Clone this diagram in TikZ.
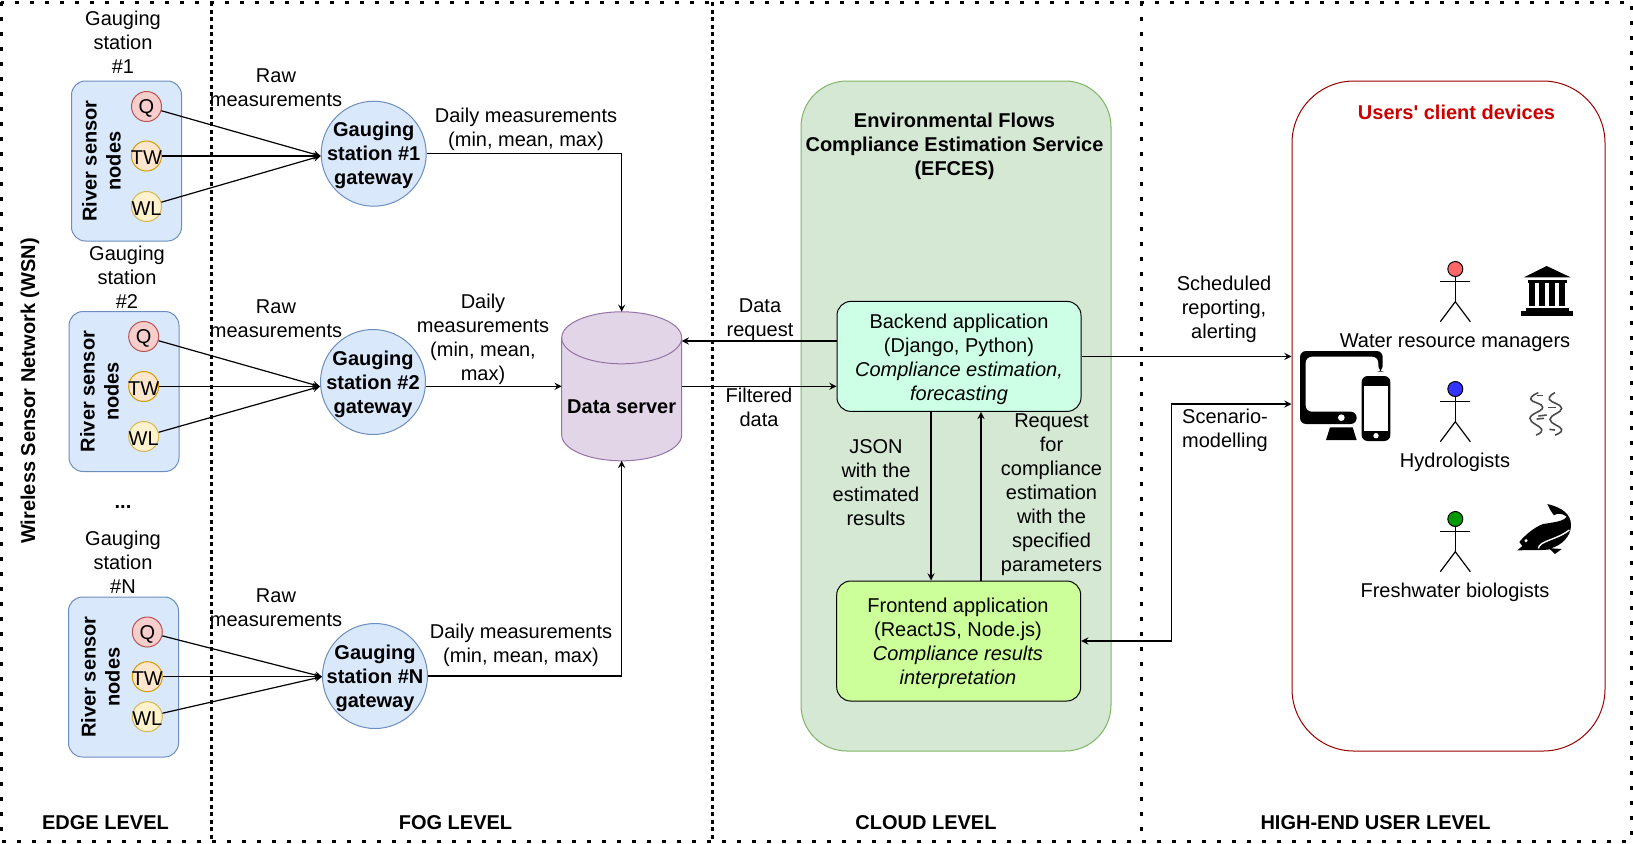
\documentclass[tikz,border=0pt]{standalone}
\usepackage{fontspec}
\setmainfont{Liberation Sans}
\newfontfamily\titlefont{Liberation Sans}
\usepackage{xcolor}
\definecolor{softblue}{HTML}{DAE8FC}
\definecolor{edgeblue}{HTML}{6C8EBF}
\definecolor{softred}{HTML}{F8CECC}
\definecolor{edgered}{HTML}{B85450}
\definecolor{softorange}{HTML}{FFE6CC}
\definecolor{edgeorange}{HTML}{D79B00}
\definecolor{softyellow}{HTML}{FFF2CC}
\definecolor{edgeyellow}{HTML}{D6B656}
\definecolor{softpurple}{HTML}{E1D5E7}
\definecolor{edgepurple}{HTML}{9673A6}
\definecolor{softgreen}{HTML}{D5E8D4}
\definecolor{edgegreen}{HTML}{82B366}
\definecolor{backendfill}{HTML}{CCFFE6}
\definecolor{frontendfill}{HTML}{CCFF99}
\definecolor{devicered}{HTML}{990000}
\definecolor{titlered}{HTML}{CC0000}
\definecolor{headred}{HTML}{FF6666}
\definecolor{headblue}{HTML}{3333FF}
\definecolor{headgreen}{HTML}{009900}

\begin{document}
\begin{tikzpicture}[x=.5pt,y=-.5pt,line width=.6pt,every label/.style={yshift=-1pt}]
\tikzstyle{txt}=[align=center,inner sep=0pt]
\tikzstyle{bold}=[txt,font=\bfseries]
\tikzstyle{river}=[rounded corners=7pt,draw=edgeblue,fill=softblue,line width=.5pt,minimum width=55pt,minimum height=80pt]
\tikzstyle{sensor}=[circle,line width=.5pt,minimum size=15pt,inner sep=0pt]
\tikzstyle{gateway}=[circle,draw=edgeblue,fill=softblue,line width=.5pt,minimum size=52.5pt,inner sep=0pt]
\tikzstyle{app}=[rounded corners=7pt,draw=black,line width=.5pt,minimum width=122pt,align=center,inner sep=0pt]
\tikzstyle{arr}=[-stealth]
\tikzstyle{sep}=[line width=1.5pt,dash pattern=on 2pt off 1.75pt]
\tikzstyle{sepwide}=[line width=1.5pt,dash pattern=on 2pt off 5.5pt]
\useasboundingbox (0,0) rectangle (1633,843);
% level frame
\draw[sepwide] (1,2) rectangle (1631,841);
\draw[sep] (211,2) -- (211,841);
\draw[sep] (712,2) -- (712,841);
\draw[sepwide] (1141.5,2) -- (1141.5,841);
\node[bold,rotate=90] (wsn) at (30,391) {Wireless Sensor Network (WSN)};
\node[bold] (edgelevel) at (105.5,823) {EDGE LEVEL};
\node[bold] (foglevel) at (455.5,823) {FOG LEVEL};
\node[bold] (cloudlevel) at (926,823) {CLOUD LEVEL};
\node[bold] (userlevel) at (1375.5,823) {HIGH-END USER LEVEL};
% stations
\node[river] (box1) at (126.5,161) {};
\node[river] (box2) at (124,391.5) {};
\node[river] (box3) at (123.5,677) {};
\node[bold,rotate=90] (rsn1) at (101.5,161) {River sensor\\nodes};
\node[bold,rotate=90] (rsn2) at (99.5,391.5) {River sensor\\nodes};
\node[bold,rotate=90] (rsn3) at (100.5,677) {River sensor\\nodes};
\node[sensor,draw=edgered,fill=softred,label=center:Q] (q1) at (146.5,106.5) {};
\node[sensor,draw=edgeorange,fill=softorange,label=center:TW] (tw1) at (146.5,156) {};
\node[sensor,draw=edgeyellow,fill=softyellow,label=center:WL] (wl1) at (146.5,206.5) {};
\node[sensor,draw=edgered,fill=softred,label=center:Q] (q2) at (143.7,336.5) {};
\node[sensor,draw=edgeorange,fill=softorange,label=center:TW] (tw2) at (143.7,386.5) {};
\node[sensor,draw=edgeyellow,fill=softyellow,label=center:WL] (wl2) at (143.7,436.5) {};
\node[sensor,draw=edgered,fill=softred,label=center:Q] (q3) at (147.3,632) {};
\node[sensor,draw=edgeorange,fill=softorange,label=center:TW] (tw3) at (147.3,676.7) {};
\node[sensor,draw=edgeyellow,fill=softyellow,label=center:WL] (wl3) at (147.3,716.7) {};
\node[txt] (st1) at (123,42) {Gauging\\station\\\#1};
\node[txt] (st2) at (127,277) {Gauging\\station\\\#2};
\node[bold] (dots) at (123,507) {...};
\node[txt] (st3) at (123,562) {Gauging\\station\\\#N};
\node[gateway,label={[bold]center:Gauging\\station \#1\\gateway}] (gw1) at (373.7,153.7) {};
\node[gateway,label={[bold]center:Gauging\\station \#2\\gateway}] (gw2) at (373,382) {};
\node[gateway,label={[bold]center:Gauging\\station \#N\\gateway}] (gw3) at (375,676) {};
\node[txt] (raw1) at (276,87.5) {Raw\\measurements};
\node[txt] (raw2) at (276,319) {Raw\\measurements};
\node[txt] (raw3) at (276,608) {Raw\\measurements};
\draw[arr] (q1) -- (gw1.west |- tw1);
\draw[arr] (tw1) -- (gw1.west |- tw1);
\draw[arr] (wl1) -- (gw1.west |- tw1);
\draw[arr] (q2) -- (gw2.west |- tw2);
\draw[arr] (tw2) -- (gw2.west |- tw2);
\draw[arr] (wl2) -- (gw2.west |- tw2);
\draw[arr] (q3) -- (gw3.west |- tw3);
\draw[arr] (tw3) -- (gw3.west |- tw3);
\draw[arr] (wl3) -- (gw3.west |- tw3);
% data server
\node[minimum width=60pt,minimum height=74.5pt,inner sep=0pt,outer sep=0pt] (server) at (621.7,386.3) {};
\draw[draw=edgepurple,fill=softpurple,line width=.5pt] ([yshift=-13pt]server.north west) arc[start angle=180,end angle=0,x radius=30pt,y radius=13pt] -- ([yshift=13pt]server.south east) arc[start angle=0,end angle=-180,x radius=30pt,y radius=13pt] -- cycle;
\draw[draw=edgepurple,line width=.5pt] ([yshift=-13pt]server.north west) arc[start angle=180,end angle=360,x radius=30pt,y radius=13pt];
\node[bold] (serverlabel) at (621.7,406.5) {Data server};
\node[txt] (daily1) at (526,129) {Daily measurements\\(min, mean, max)};
\node[txt] (daily2) at (483,339) {Daily\\measurements\\(min, mean,\\max)};
\node[txt] (daily3) at (521,645) {Daily measurements\\(min, mean, max)};
\draw[arr] (gw1.east) -| (server.north);
\draw[arr] (gw2.east |- server) -- (server.west);
\draw[arr] (gw3.east) -| (server.south);
% cloud
\node[rounded corners=23pt,draw=edgegreen,fill=softgreen,line width=.5pt,minimum width=155pt,minimum height=335pt] (efces) at (956,416) {};
\node[bold] (efcestitle) at (954.5,146) {Environmental Flows\\Compliance Estimation Service\\(EFCES)};
\node[app,fill=backendfill,minimum height=55pt] (backend) at (959,356.4) {};
\node[txt] (backendtext) at (959,359.5) {Backend application\\(Django, Python)\\\textit{Compliance estimation,}\\\textit{forecasting}};
\node[app,fill=frontendfill,minimum height=60pt] (frontend) at (958.7,641) {};
\node[txt] (frontendtext) at (958,643.5) {Frontend application\\(ReactJS, Node.js)\\\textit{Compliance results}\\\textit{interpretation}};
\coordinate (reqpoint) at (681.7,341);
\draw[arr] (backend.west |- reqpoint) -- (reqpoint);
\draw[arr] (server.east) -- (backend.west |- server);
\node[txt] (datareq) at (760,319.5) {Data\\request};
\node[txt] (filtered) at (759,407.5) {Filtered\\data};
\coordinate (jsonpoint) at (931,0);
\coordinate (reqback) at (981,0);
\draw[arr] (backend.south -| jsonpoint) -- (frontend.north -| jsonpoint);
\draw[arr] (frontend.north -| reqback) -- (backend.south -| reqback);
\node[txt] (jsonlabel) at (876,483) {JSON\\with the\\estimated\\results};
\node[txt] (reqlabel) at (1051.5,495) {Request\\for\\compliance\\estimation\\with the\\specified\\parameters};
% users
\node[rounded corners=31pt,draw=devicered,line width=.5pt,minimum width=156.5pt,minimum height=335pt] (users) at (1448.5,416) {};
\node[font=\titlefont\bfseries,text=titlered,inner sep=0pt] (userstitle) at (1456.5,112.5) {Users' client devices};
\coordinate (scenpoint) at (1291.5,404);
\coordinate (scenbend) at (1171.7,404);
\draw[arr] (backend.east) -- (users.west |- backend);
\draw[stealth-stealth] (frontend.east) -| (scenbend) -- (scenpoint);
\node[txt] (schedlabel) at (1224,309) {Scheduled\\reporting,\\alerting};
\node[txt] (scenlabel) at (1225,430) {Scenario-\\modelling};
\foreach \row/\col/\who in {0/headred/managers,120/headblue/hydro,250/headgreen/bio}{
  \node[circle,draw=black,fill=\col,line width=.5pt,minimum size=7.5pt,inner sep=0pt] (head\who) at (1455.3,269+\row) {};
  \draw (head\who.south) -- (1455.3,301.7+\row);
  \draw (1440.3,281.3+\row) -- (1470.3,281.3+\row);
  \draw (1440.3,321.7+\row) -- (1455.3,301.7+\row) -- (1470.3,321.7+\row);
}
\node[txt] (managers) at (1455,343) {Water resource managers};
\node[txt] (hydro) at (1455,462) {Hydrologists};
\node[txt] (bio) at (1455,592) {Freshwater biologists};
% device and group icons
\begin{scope}[shift={(1280,240)},x=.5pt/3,y=-.5pt/3]
\fill[rounded corners=3pt,even odd rule] (60,333) -- (308,333) -- (308,395) -- (295,395) -- (295,350) -- (77,350) -- (77,515) -- (230,515) -- (230,552) -- (60,552) -- cycle;
\fill[white] (184,533) circle (10);
\fill (150,562) -- (218,562) -- (230,600) -- (138,600) -- cycle;
\fill[rounded corners=3pt] (245,408) rectangle (331,603);
\fill[white] (252,438) rectangle (325,572);
\fill[white] (288,587) circle (8);
\fill (800,78) -- (872,112) -- (732,112) -- cycle;
\fill (745,120) rectangle (860,128);
\foreach \col in {748,778,808,838}{
  \fill (\col,130) rectangle (\col+17,198);
}
\fill (738,203) rectangle (868,212);
\fill (723,212) rectangle (880,228);
\end{scope}
\begin{scope}[shift={(1470,370)},x=.5pt/3,y=-.5pt/3]
\draw[black!70,line width=.8pt] plot[smooth,tension=.8] coordinates {(205,68) (182,88) (218,112) (180,145) (215,178) (198,195)};
\draw[black!70,line width=.8pt] plot[smooth,tension=.8] coordinates {(255,68) (238,88) (275,115) (240,148) (275,178) (255,195)};
\draw[black!70,line width=.8pt] (200,77) -- (218,77);
\draw[black!70,line width=.8pt] (235,113) -- (258,113);
\draw[black!70,line width=.8pt] (205,138) -- (230,135);
\draw[black!70,line width=.8pt] (200,147) -- (222,145);
\draw[black!70,line width=.8pt] (238,178) -- (255,180);
\fill (232,402) .. controls (275,412) and (303,432) .. (303,465) .. controls (303,500) and (275,525) .. (243,535) -- (275,537) -- (255,552) -- (240,538) .. controls (210,542) and (175,540) .. (142,541) -- (157,528) -- (148,516) .. controls (165,495) and (195,470) .. (220,462) -- (245,458) .. controls (265,455) and (285,450) .. (290,440) .. controls (278,430) and (262,428) .. (252,436) .. controls (243,425) and (238,415) .. (232,402) -- cycle;
\draw[white,line width=.7pt] (205,535) .. controls (208,512) and (260,510) .. (298,480);
\fill[white] (168,512) circle (5);
\end{scope}
\end{tikzpicture}
\end{document}
